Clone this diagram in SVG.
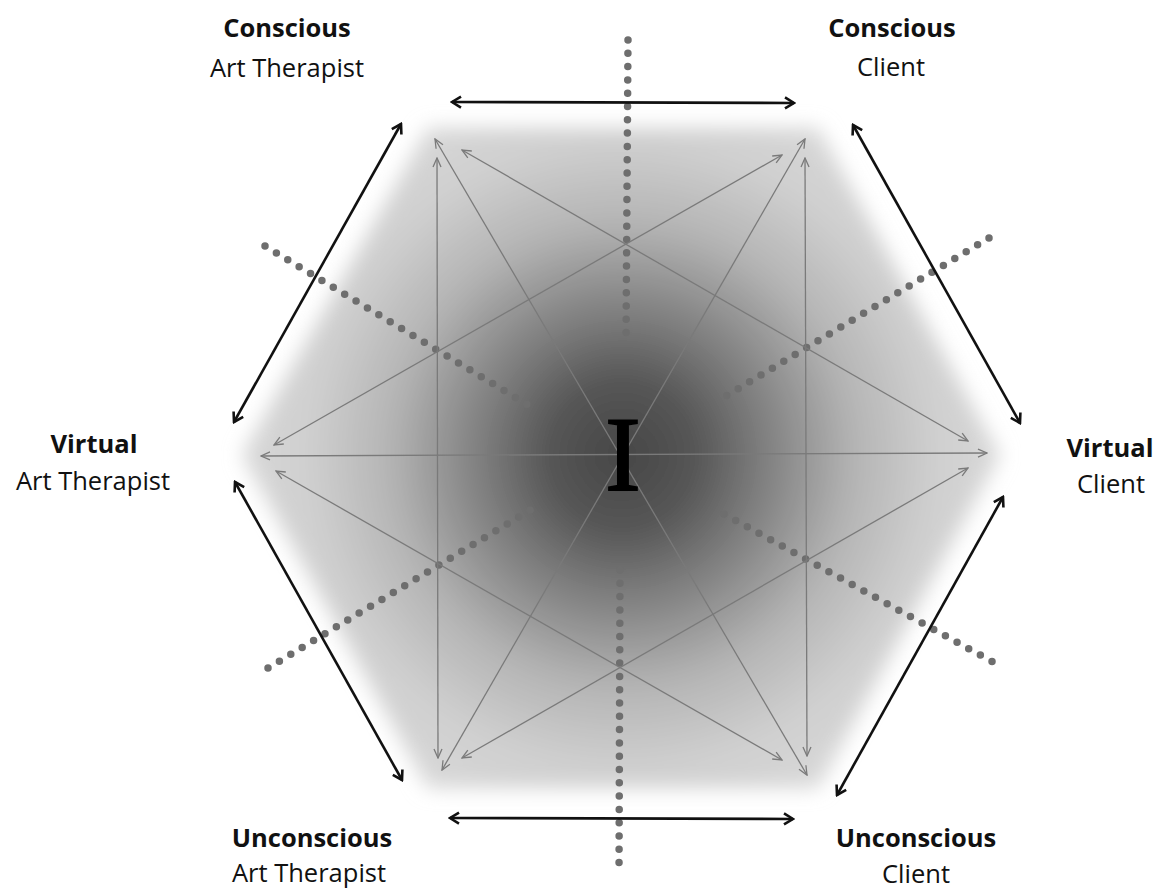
<svg xmlns="http://www.w3.org/2000/svg" width="1161" height="891" viewBox="0 0 1161 891">
  <style>
    .lbl { font-family: "Open Sans", "Liberation Sans", sans-serif; font-size: 25.5px; fill: #111; text-anchor: middle; }
    .b { font-weight: bold; }
    .thin { stroke: #7a7a7a; stroke-width: 1.3; fill: none; marker-start: url(#ga); marker-end: url(#ga); }
    .thick { stroke: #111; stroke-width: 2.6; fill: none; marker-start: url(#ba); marker-end: url(#ba); }
    .dots { stroke: #6e6e6e; stroke-width: 7.5; stroke-linecap: round; stroke-dasharray: 0 13.3; fill: none; }
  </style>
  <defs>
    <radialGradient id="bg" cx="622" cy="455" r="400" gradientUnits="userSpaceOnUse">
      <stop offset="0" stop-color="#474747"/>
      <stop offset="0.18" stop-color="#555555"/>
      <stop offset="0.38" stop-color="#858585"/>
      <stop offset="0.58" stop-color="#b4b4b4"/>
      <stop offset="0.78" stop-color="#cfcfcf"/>
      <stop offset="1" stop-color="#dadada"/>
    </radialGradient>
    <filter id="blur" x="-20%" y="-20%" width="140%" height="140%">
      <feGaussianBlur stdDeviation="10"/>
    </filter>
    <marker id="ba" viewBox="0 0 14 14" refX="12" refY="7" markerWidth="14" markerHeight="14" markerUnits="userSpaceOnUse" orient="auto-start-reverse">
      <path d="M3,1.5 L12,7 L3,12.5" fill="none" stroke="#111" stroke-width="2.6" stroke-linejoin="miter"/>
    </marker>
    <marker id="ga" viewBox="0 0 12 12" refX="11" refY="6" markerWidth="12" markerHeight="12" markerUnits="userSpaceOnUse" orient="auto-start-reverse">
      <path d="M2,2 L11,6 L2,10" fill="none" stroke="#7a7a7a" stroke-width="1.3"/>
    </marker>
  </defs>
  <rect width="1161" height="891" fill="#ffffff"/>

  <g id="background">
    <polygon points="428,128 818,128 1000,455 818,788 428,788 242,455" fill="url(#bg)" filter="url(#blur)"/>
  </g>

  <g id="dotted-axes">
    <line class="dots" x1="628" y1="40" x2="626" y2="344"/>
    <line class="dots" x1="620" y1="570" x2="619" y2="875"/>
    <line class="dots" x1="265" y1="246" x2="528" y2="405"/>
    <line class="dots" x1="989" y1="238" x2="726" y2="396"/>
    <line class="dots" x1="268" y1="668" x2="532" y2="509"/>
    <line class="dots" x1="724" y1="514" x2="993" y2="662"/>
  </g>

  <g id="connectors">
    <line class="thin" x1="435" y1="139" x2="807" y2="775"/>
    <line class="thin" x1="805" y1="139" x2="442" y2="770"/>
    <line class="thin" x1="261" y1="456" x2="987" y2="453"/>
    <line class="thin" x1="437" y1="158" x2="438" y2="758"/>
    <line class="thin" x1="805" y1="158" x2="807" y2="756"/>
    <line class="thin" x1="462" y1="150" x2="968" y2="441"/>
    <line class="thin" x1="782" y1="155" x2="274" y2="445"/>
    <line class="thin" x1="462" y1="758" x2="968" y2="468"/>
    <line class="thin" x1="782" y1="760" x2="276" y2="471"/>

    <line class="thick" x1="452" y1="102" x2="794" y2="103"/>
    <line class="thick" x1="450" y1="818" x2="793" y2="819"/>
    <line class="thick" x1="401" y1="124" x2="234" y2="422"/>
    <line class="thick" x1="235" y1="482" x2="402" y2="780"/>
    <line class="thick" x1="853" y1="125" x2="1020" y2="423"/>
    <line class="thick" x1="1003" y1="497" x2="837" y2="795"/>
  </g>

  <g id="center-I">
    <text x="623" y="490" font-family="Liberation Serif, serif" font-size="106" fill="#000" stroke="#000" stroke-width="2" text-anchor="middle">I</text>
  </g>

  <g id="node-conscious-therapist">
    <text class="lbl b" x="287" y="37">Conscious</text>
    <text class="lbl" x="287" y="77">Art Therapist</text>
  </g>
  <g id="node-conscious-client">
    <text class="lbl b" x="892" y="37">Conscious</text>
    <text class="lbl" x="891" y="76">Client</text>
  </g>
  <g id="node-virtual-therapist">
    <text class="lbl b" x="94" y="453">Virtual</text>
    <text class="lbl" x="93" y="490">Art Therapist</text>
  </g>
  <g id="node-virtual-client">
    <text class="lbl b" x="1110" y="457">Virtual</text>
    <text class="lbl" x="1111" y="493">Client</text>
  </g>
  <g id="node-unconscious-therapist">
    <text class="lbl b" x="312" y="847">Unconscious</text>
    <text class="lbl" x="309" y="882">Art Therapist</text>
  </g>
  <g id="node-unconscious-client">
    <text class="lbl b" x="916" y="847">Unconscious</text>
    <text class="lbl" x="916" y="883">Client</text>
  </g>
</svg>
